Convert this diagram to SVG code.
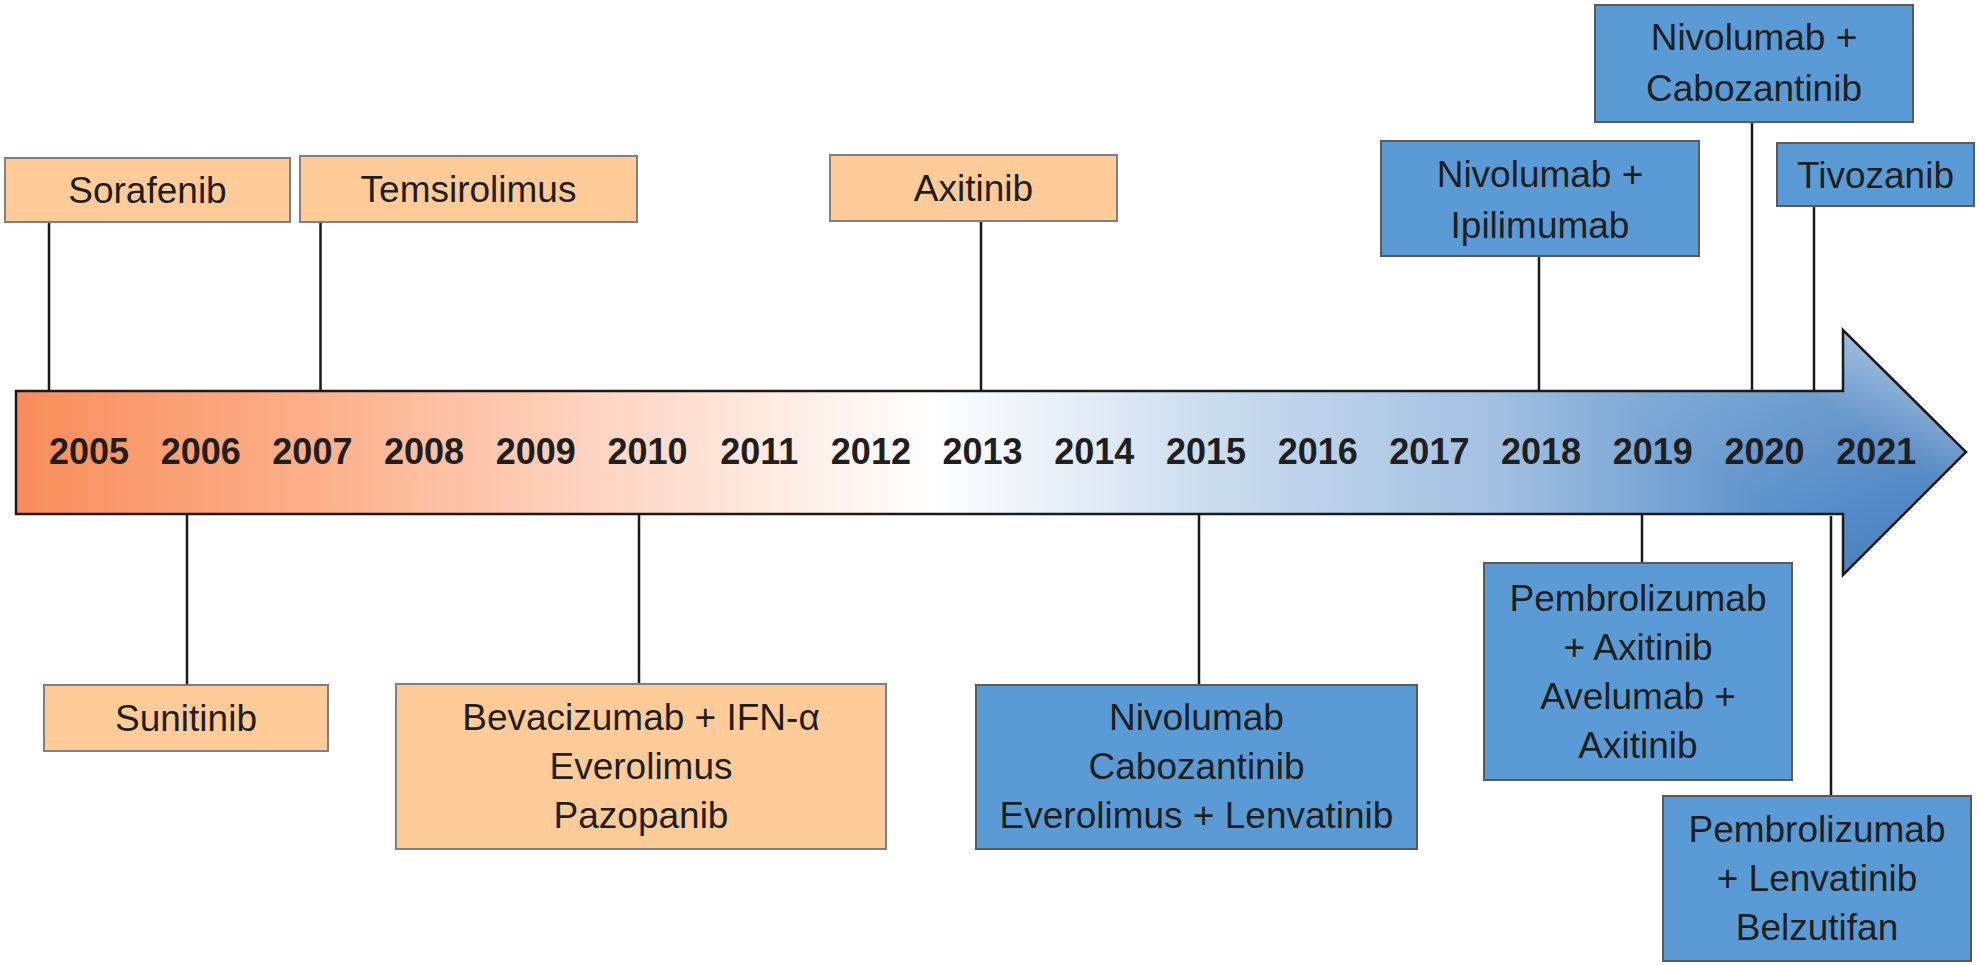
<svg xmlns="http://www.w3.org/2000/svg" width="1979" height="965" viewBox="0 0 1979 965">
  <style>
    .lbl { font-family: "Liberation Sans", Arial, sans-serif; font-size: 37px; fill: #1f1f1f; text-anchor: middle; }
    .yr { font-family: "Liberation Sans", Arial, sans-serif; font-size: 36px; font-weight: bold; fill: #1f1f1f; text-anchor: middle; }
    .o { fill: #FFCB98; stroke: #808080; stroke-width: 2; }
    .b { fill: #5B9BD5; stroke: #5a5a5a; stroke-width: 2; }
    .ln { stroke: #1a1a1a; stroke-width: 2.5; fill: none; }
  </style>
  <defs>
    <linearGradient id="arrowGrad" gradientUnits="userSpaceOnUse" x1="16" y1="452" x2="1966" y2="452">
      <stop offset="0" stop-color="#F98D5B"/>
      <stop offset="0.15" stop-color="#FCAF89"/>
      <stop offset="0.33" stop-color="#FEDCCD"/>
      <stop offset="0.47" stop-color="#FFFFFF"/>
      <stop offset="0.61" stop-color="#CCDDEF"/>
      <stop offset="0.76" stop-color="#A2C0E1"/>
      <stop offset="0.895" stop-color="#5F94CC"/>
      <stop offset="1" stop-color="#3370B6"/>
    </linearGradient>
    <linearGradient id="tipGlow" gradientUnits="userSpaceOnUse" x1="1965" y1="385" x2="1850" y2="560">
      <stop offset="0" stop-color="#FFFFFF" stop-opacity="0.55"/>
      <stop offset="0.45" stop-color="#FFFFFF" stop-opacity="0.15"/>
      <stop offset="1" stop-color="#FFFFFF" stop-opacity="0"/>
    </linearGradient>
  </defs>

  <g id="timeline-arrow">
    <path d="M16,391 L1843,391 L1843,330 L1966,452 L1843,575 L1843,514 L16,514 Z" fill="url(#arrowGrad)"/>
    <path d="M16,391 L1843,391 L1843,330 L1966,452 L1843,575 L1843,514 L16,514 Z" fill="url(#tipGlow)"/>
    <path d="M16,391 L1843,391 L1843,330 L1966,452 L1843,575 L1843,514 L16,514 Z" fill="none" stroke="#1a1a1a" stroke-width="2.5" stroke-linejoin="miter"/>
  </g>

  <g id="years">
    <text class="yr" x="89" y="464">2005</text>
    <text class="yr" x="200.7" y="464">2006</text>
    <text class="yr" x="312.4" y="464">2007</text>
    <text class="yr" x="424.1" y="464">2008</text>
    <text class="yr" x="535.8" y="464">2009</text>
    <text class="yr" x="647.5" y="464">2010</text>
    <text class="yr" x="759.2" y="464">2011</text>
    <text class="yr" x="870.9" y="464">2012</text>
    <text class="yr" x="982.6" y="464">2013</text>
    <text class="yr" x="1094.3" y="464">2014</text>
    <text class="yr" x="1206" y="464">2015</text>
    <text class="yr" x="1317.7" y="464">2016</text>
    <text class="yr" x="1429.4" y="464">2017</text>
    <text class="yr" x="1541.1" y="464">2018</text>
    <text class="yr" x="1652.8" y="464">2019</text>
    <text class="yr" x="1764.5" y="464">2020</text>
    <text class="yr" x="1876.2" y="464">2021</text>
  </g>

  <g id="connectors">
    <line class="ln" x1="49" y1="222" x2="49" y2="391"/>
    <line class="ln" x1="320.5" y1="222" x2="320.5" y2="391"/>
    <line class="ln" x1="981" y1="221" x2="981" y2="391"/>
    <line class="ln" x1="1539" y1="256" x2="1539" y2="391"/>
    <line class="ln" x1="1752" y1="122" x2="1752" y2="391"/>
    <line class="ln" x1="1814" y1="206" x2="1814" y2="391"/>
    <line class="ln" x1="187" y1="514" x2="187" y2="685"/>
    <line class="ln" x1="639" y1="514" x2="639" y2="684"/>
    <line class="ln" x1="1199" y1="514" x2="1199" y2="685"/>
    <line class="ln" x1="1642" y1="514" x2="1642" y2="563"/>
    <line class="ln" x1="1831" y1="516" x2="1831" y2="796"/>
  </g>

  <g id="n-sorafenib">
    <rect class="o" x="5" y="158" width="285" height="64"/>
    <text class="lbl" x="147.5" y="203">Sorafenib</text>
  </g>
  <g id="n-temsirolimus">
    <rect class="o" x="300" y="156" width="337" height="66"/>
    <text class="lbl" x="468.5" y="202">Temsirolimus</text>
  </g>
  <g id="n-axitinib">
    <rect class="o" x="830" y="155" width="287" height="66"/>
    <text class="lbl" x="973.5" y="201">Axitinib</text>
  </g>
  <g id="n-nivolumab-ipilimumab">
    <rect class="b" x="1381" y="141" width="318" height="115"/>
    <text class="lbl" x="1540" y="187">Nivolumab +</text>
    <text class="lbl" x="1540" y="238">Ipilimumab</text>
  </g>
  <g id="n-nivolumab-cabozantinib">
    <rect class="b" x="1595" y="5" width="318" height="117"/>
    <text class="lbl" x="1754" y="50">Nivolumab +</text>
    <text class="lbl" x="1754" y="101">Cabozantinib</text>
  </g>
  <g id="n-tivozanib">
    <rect class="b" x="1777" y="143" width="197" height="63"/>
    <text class="lbl" x="1875.5" y="188">Tivozanib</text>
  </g>

  <g id="n-sunitinib">
    <rect class="o" x="44" y="685" width="284" height="66"/>
    <text class="lbl" x="186" y="731">Sunitinib</text>
  </g>
  <g id="n-bevacizumab">
    <rect class="o" x="396" y="684" width="490" height="165"/>
    <text class="lbl" x="641" y="730">Bevacizumab + IFN-α</text>
    <text class="lbl" x="641" y="779">Everolimus</text>
    <text class="lbl" x="641" y="828">Pazopanib</text>
  </g>
  <g id="n-nivolumab-2015">
    <rect class="b" x="976" y="685" width="441" height="164"/>
    <text class="lbl" x="1196.5" y="730">Nivolumab</text>
    <text class="lbl" x="1196.5" y="779">Cabozantinib</text>
    <text class="lbl" x="1196.5" y="828">Everolimus + Lenvatinib</text>
  </g>
  <g id="n-pembrolizumab-axitinib">
    <rect class="b" x="1484" y="563" width="308" height="217"/>
    <text class="lbl" x="1638" y="611">Pembrolizumab</text>
    <text class="lbl" x="1638" y="660">+ Axitinib</text>
    <text class="lbl" x="1638" y="709">Avelumab +</text>
    <text class="lbl" x="1638" y="758">Axitinib</text>
  </g>
  <g id="n-pembrolizumab-lenvatinib">
    <rect class="b" x="1663" y="796" width="308" height="165"/>
    <text class="lbl" x="1817" y="842">Pembrolizumab</text>
    <text class="lbl" x="1817" y="891">+ Lenvatinib</text>
    <text class="lbl" x="1817" y="940">Belzutifan</text>
  </g>
</svg>
